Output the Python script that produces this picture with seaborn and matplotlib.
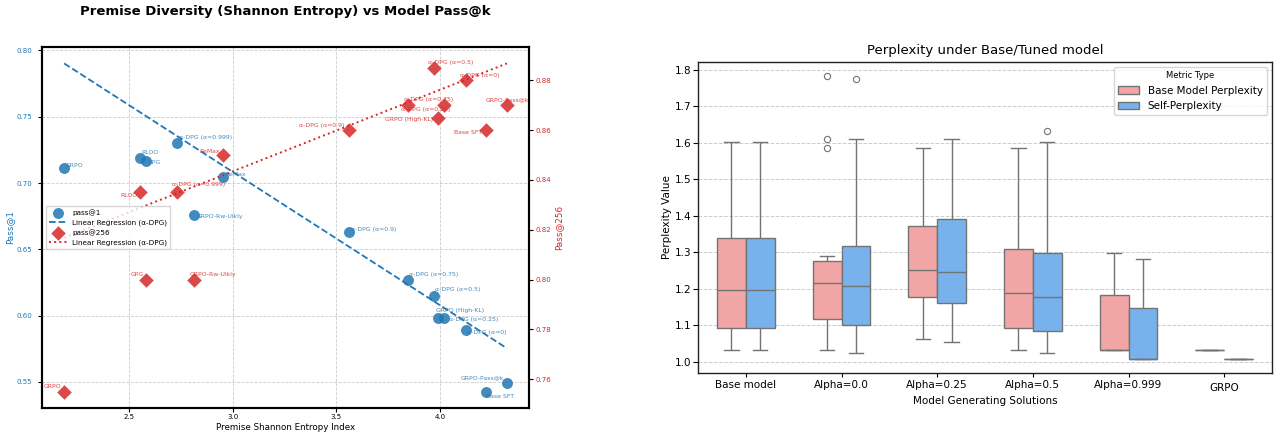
import numpy as np
import pandas as pd
import matplotlib.pyplot as plt
import matplotlib.transforms as mtransforms
import seaborn as sns

# left panel: premise entropy vs pass@k
models = ["GRPO", "RLOO", "GPG", "α-DPG (α=0.999)", "ReMax", "GRPO-Rw-Ulkly",
          "α-DPG (α=0.9)", "α-DPG (α=0.75)", "α-DPG (α=0.5)", "GRPO (High-KL)",
          "α-DPG (α=0.25)", "α-DPG (α=0)", "GRPO-Pass@k", "Base SFT"]
entropy = [2.185, 2.552, 2.582, 2.729, 2.950, 2.813, 3.559, 3.847, 3.970, 3.993,
           4.019, 4.127, 4.324, 4.225]
pass1 = [0.7112, 0.7188, 0.7168, 0.7304, 0.7044, 0.6755, 0.6634, 0.6269, 0.6148,
         0.5984, 0.5984, 0.5891, 0.5492, 0.5427]
pass256 = [0.755, 0.835, 0.800, 0.835, 0.850, 0.800, 0.860, 0.870, 0.885, 0.865,
           0.870, 0.880, 0.870, 0.860]

# label placement (offset in pixels, alignment)
pass1_label_pos = [(1, 3, "left"), (1, 6, "left"), (1, -2, "left"), (2, 5, "left"),
                   (3, 3, "left"), (2, -1, "left"), (2, 2, "left"), (1, 5, "left"),
                   (1, 6, "left"), (-2, 7, "left"), (5, -2, "left"), (1, -2, "left"),
                   (-3, 5, "right"), (0, -5, "left")]
pass256_label_pos = [(-3, 5, "right"), (-3, -3, "right"), (-2, 5, "right"), (-5, 8, "left"),
                     (-3, 4, "right"), (-5, 5, "left"), (-4, 5, "right"), (-4, 6, "left"),
                     (-6, 5, "left"), (-5, -2, "right"), (6, -4, "right"), (-6, 5, "left"),
                     (0, 5, "center"), (-4, -2, "right")]

# right panel: perplexity samples per model
ppl_models = ["Base model", "Alpha=0.0", "Alpha=0.25", "Alpha=0.5", "Alpha=0.999", "GRPO"]
base_ppl = [
    [1.032, 1.093, 1.197, 1.340, 1.602],
    [1.032, 1.05, 1.07, 1.10, 1.117, 1.14, 1.17, 1.20, 1.216, 1.23, 1.25, 1.265, 1.277,
     1.290, 1.586, 1.610, 1.782],
    [1.063, 1.177, 1.250, 1.373, 1.586],
    [1.032, 1.092, 1.188, 1.308, 1.586],
    [1.032, 1.032, 1.032, 1.182, 1.298],
    [1.032, 1.032, 1.032],
]
self_ppl = [
    [1.032, 1.093, 1.197, 1.340, 1.602],
    [1.024, 1.06, 1.101, 1.15, 1.208, 1.26, 1.316, 1.610, 1.774],
    [1.055, 1.161, 1.246, 1.392, 1.610],
    [1.024, 1.05, 1.085, 1.13, 1.176, 1.24, 1.298, 1.602, 1.633],
    [1.008, 1.008, 1.008, 1.148, 1.281],
    [1.008, 1.008, 1.008],
]

blue = "#1f77b4"
red = "#d62728"

fig = plt.figure(figsize=(12.77, 4.41), dpi=100)

# ---- left: twin axis scatter ----
ax1 = fig.add_axes([0.0329, 0.0748, 0.3814, 0.8186])
ax2 = ax1.twinx()

ent = np.array(entropy)
p1 = np.array(pass1)
p256 = np.array(pass256)
mask = np.array([m.startswith("α-DPG") for m in models])
xs = np.array([ent.min(), ent.max()])

sns.scatterplot(x=ent, y=p1, ax=ax1, color=blue, s=62, alpha=0.85, linewidth=0, zorder=3)
h1 = ax1.collections[-1]
k1, b1 = np.polyfit(ent[mask], p1[mask], 1)
l1, = ax1.plot(xs, k1 * xs + b1, "--", color=blue, lw=1.3)

sns.scatterplot(x=ent, y=p256, ax=ax2, color=red, marker="D", s=55, alpha=0.85, linewidth=0, zorder=3)
h2 = ax2.collections[-1]
k2, b2 = np.polyfit(ent[mask], p256[mask], 1)
l2, = ax2.plot(xs, k2 * xs + b2, ":", color=red, lw=1.4)

for name, x, y, (dx, dy, ha) in zip(models, entropy, pass1, pass1_label_pos):
    ax1.annotate(name, (x, y), xytext=(dx, dy), textcoords="offset pixels",
                 fontsize=4.4, color=blue, alpha=0.85, ha=ha, va="center")
for name, x, y, (dx, dy, ha) in zip(models, entropy, pass256, pass256_label_pos):
    ax2.annotate(name, (x, y), xytext=(dx, dy), textcoords="offset pixels",
                 fontsize=4.4, color=red, alpha=0.85, ha=ha, va="center")

ax1.grid(True, linestyle="--", color="#cccccc", linewidth=0.6)
ax1.set_xticks([2.5, 3.0, 3.5, 4.0])
ax1.tick_params(axis="x", labelsize=5, length=3, pad=1.5)
ax1.tick_params(axis="y", labelsize=5, labelcolor=blue, length=3, pad=4)
ax2.tick_params(axis="y", labelsize=5, labelcolor=red, length=3, pad=1.5)
ax1.set_xlabel("Premise Shannon Entropy Index", fontsize=6.3, labelpad=2)
ax1.set_ylabel("Pass@1", fontsize=6.3, color=blue, labelpad=2)
ax2.set_ylabel("Pass@256", fontsize=6.3, color=red, labelpad=2)
for ax in (ax1, ax2):
    for sp in ax.spines.values():
        sp.set_linewidth(1.5)
ax1.set_title("Premise Diversity (Shannon Entropy) vs Model Pass@k",
              fontsize=9.5, fontweight="bold", pad=23)
ax2.legend([h1, l1, h2, l2],
           ["pass@1", "Linear Regression (α-DPG)", "pass@256", "Linear Regression (α-DPG)"],
           loc="center left", fontsize=5.2, handlelength=2.5, framealpha=0.8)

# ---- right: perplexity boxplots ----
rows = []
for name, vals in zip(ppl_models, base_ppl):
    for v in vals:
        rows.append({"Model": name, "Metric Type": "Base Model Perplexity", "Perplexity Value": v})
for name, vals in zip(ppl_models, self_ppl):
    for v in vals:
        rows.append({"Model": name, "Metric Type": "Self-Perplexity", "Perplexity Value": v})
df = pd.DataFrame(rows)

ax3 = fig.add_axes([0.5466, 0.1542, 0.4495, 0.7052])
ax3.set_axisbelow(True)
ax3.grid(axis="y", linestyle="--", color="#cccccc", linewidth=0.7)
sns.boxplot(data=df, x="Model", y="Perplexity Value", hue="Metric Type",
            order=ppl_models, palette=["#F2A5A5", "#78B2EC"], saturation=1,
            width=0.6, linecolor="0.45", linewidth=1,
            flierprops=dict(marker="o", markerfacecolor="none", markeredgecolor="0.45",
                            markersize=4.5, markeredgewidth=0.8),
            ax=ax3)
ax3.set_title("Perplexity under Base/Tuned model", fontsize=9.5)
ax3.set_xlabel("Model Generating Solutions", fontsize=7.5, labelpad=2)
ax3.set_ylabel("Perplexity Value", fontsize=7.5, labelpad=2)
ax3.tick_params(axis="x", labelsize=7.5, length=3, pad=2)
ax3.tick_params(axis="y", labelsize=7.5, length=3.5, pad=1.5)
for sp in ax3.spines.values():
    sp.set_linewidth(1.0)
    sp.set_color("#222222")
sns.move_legend(ax3, "upper right", fontsize=7.5, title_fontsize=6, title="Metric Type")

lbl = ax3.get_xticklabels()[-1]
lbl.set_transform(lbl.get_transform() + mtransforms.ScaledTranslation(0, -3.5 / 100, fig.dpi_scale_trans))

fig.savefig("out.png", dpi=100)
